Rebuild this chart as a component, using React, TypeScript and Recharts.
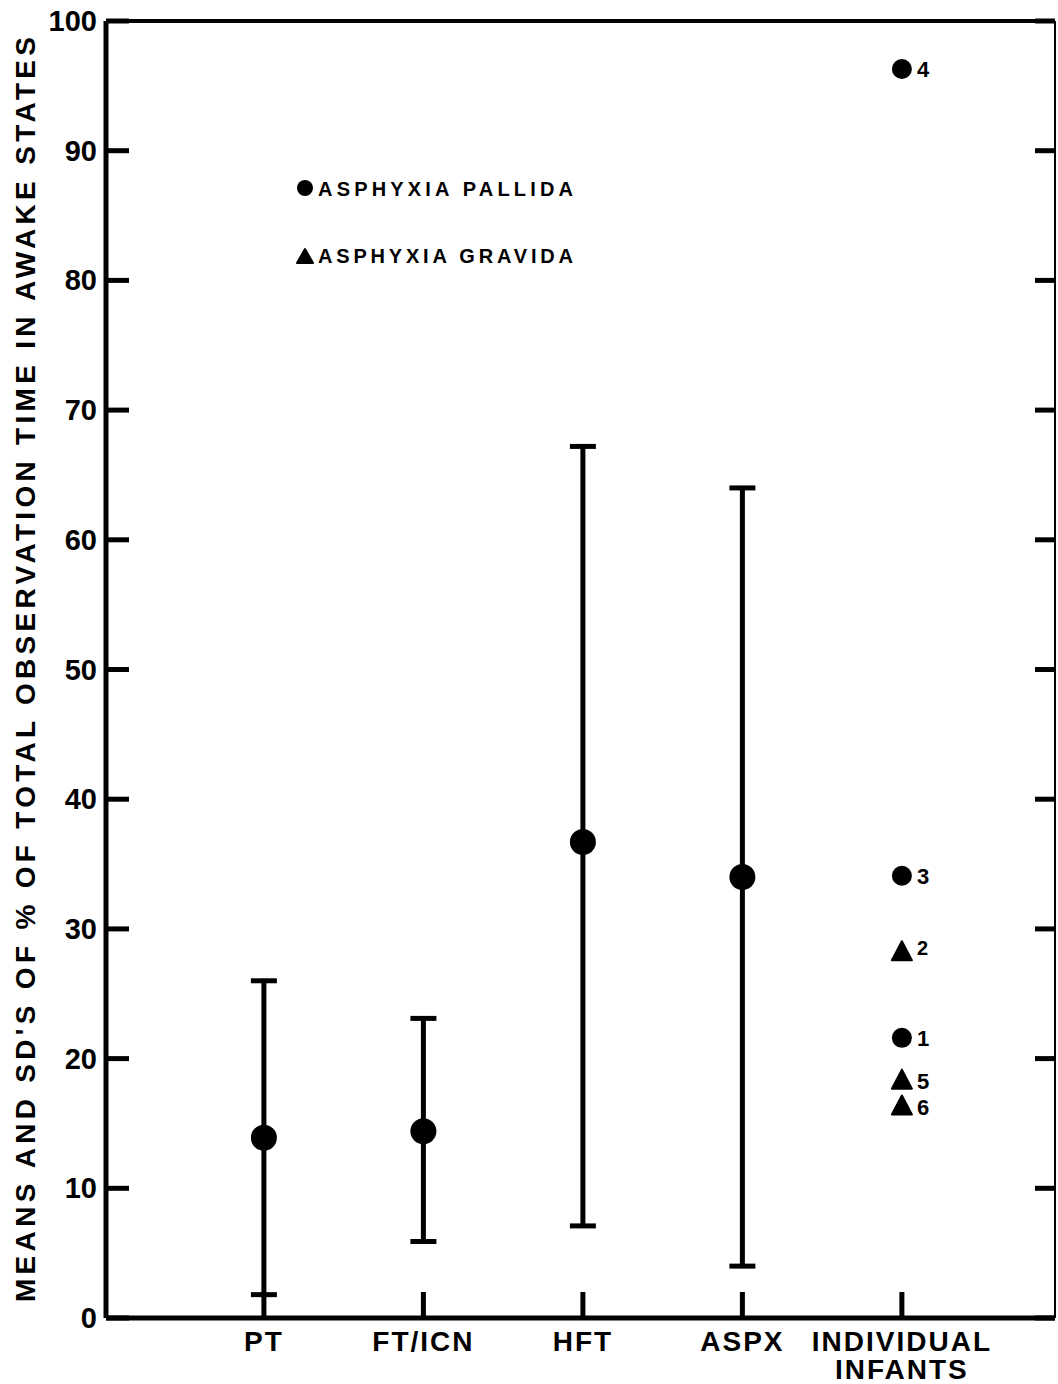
import React from "react";
import { ComposedChart, Scatter, XAxis, YAxis, ErrorBar, Legend, LabelList } from "recharts";

const categories = ["PT", "FT/ICN", "HFT", "ASPX", "INDIVIDUAL INFANTS"];
const groupMeans = [13.9, 14.4, 36.7, 34.0];
const groupUpper = [26.0, 23.1, 67.2, 64.0];
const groupLower = [1.8, 5.9, 7.1, 4.0];

const pallidaIds = ["4", "3", "1"];
const pallidaValues = [96.3, 34.1, 21.6];
const gravidaIds = ["2", "5", "6"];
const gravidaValues = [28.2, 18.3, 16.3];

const yTicks = [0, 10, 20, 30, 40, 50, 60, 70, 80, 90, 100];
const xTicks = [1, 2, 3, 4, 5];

const FONT = "'Liberation Sans', Arial, sans-serif";
const X_DOMAIN: [number, number] = [0.01, 5.96];

const groupData = groupMeans.map((m, i) => ({
  x: i + 1,
  y: m,
  err: [m - groupLower[i], groupUpper[i] - m],
}));
const pallidaData = pallidaValues.map((v, i) => ({ x: 5, y: v, id: pallidaIds[i] }));
const gravidaData = gravidaValues.map((v, i) => ({ x: 5, y: v, id: gravidaIds[i] }));

const LeftTick = (props: any) => {
  const { x, y, payload } = props;
  return (
    <g>
      <line x1={x + 9} x2={x + 32} y1={y} y2={y} stroke="#000" strokeWidth={5} />
      <text x={x} y={y + 10} textAnchor="end" fontFamily={FONT} fontWeight={700} fontSize={29} fill="#000">
        {payload.value}
      </text>
    </g>
  );
};

const RightTick = (props: any) => {
  const { x, y } = props;
  return <line x1={x - 20} x2={x} y1={y} y2={y} stroke="#000" strokeWidth={5} />;
};

const TopTick = (props: any) => {
  const { x, y } = props;
  return <line x1={x} x2={x} y1={y} y2={y + 25} stroke="#000" strokeWidth={5} />;
};

const BottomTick = (props: any) => {
  const { x, y, payload } = props;
  const lines = categories[payload.value - 1].split(" ");
  return (
    <g>
      <line x1={x} x2={x} y1={y} y2={y - 26} stroke="#000" strokeWidth={5} />
      {lines.map((t, i) => (
        <text key={t} x={x} y={y + 33 + i * 28} textAnchor="middle" fontFamily={FONT} fontWeight={700} fontSize={28} letterSpacing={2} fill="#000">
          {t}
        </text>
      ))}
    </g>
  );
};

const YLabel = (props: any) => {
  const { viewBox } = props;
  const cy = viewBox.y + viewBox.height / 2;
  return (
    <text
      x={35}
      y={cy}
      transform={`rotate(-90, 35, ${cy})`}
      textAnchor="middle"
      fontFamily={FONT}
      fontWeight={700}
      fontSize={28}
      textLength={1265}
      lengthAdjust="spacing"
      fill="#000"
    >
      MEANS AND SD'S OF % OF TOTAL OBSERVATION TIME IN AWAKE STATES
    </text>
  );
};

const MeanDot = (props: any) => <circle cx={props.cx} cy={props.cy} r={13} fill="#000" />;
const SmallDot = (props: any) => <circle cx={props.cx} cy={props.cy} r={10} fill="#000" />;
const Tri = (props: any) => {
  const { cx, cy } = props;
  return <path d={`M${cx},${cy - 11} L${cx + 10},${cy + 8} L${cx - 10},${cy + 8} Z`} fill="#000" stroke="#000" strokeWidth={2} strokeLinejoin="round" />;
};

const IdLabel = (props: any) => {
  const { x, y, width, height, value } = props;
  const cx = x + width / 2;
  const cy = y + height / 2;
  const raised = value === "2";
  return (
    <text x={cx + 15} y={cy + (raised ? 3 : 8)} fontFamily={FONT} fontWeight={700} fontSize={raised ? 20 : 22} fill="#000">
      {value}
    </text>
  );
};

const LegendBox = () => (
  <svg width={320} height={100}>
    <circle cx={9} cy={10} r={8} fill="#000" />
    <text x={22} y={18} fontFamily={FONT} fontWeight={700} fontSize={20} textLength={255} lengthAdjust="spacing" fill="#000">
      ASPHYXIA PALLIDA
    </text>
    <path d="M9,71 L17,85 L1,85 Z" fill="#000" stroke="#000" strokeWidth={2} strokeLinejoin="round" />
    <text x={22} y={85} fontFamily={FONT} fontWeight={700} fontSize={20} textLength={255} lengthAdjust="spacing" fill="#000">
      ASPHYXIA GRAVIDA
    </text>
  </svg>
);

export default function App() {
  return (
    <div style={{ position: "absolute", left: 0, top: 0, width: 1058, height: 1384, background: "#fff" }}>
      <ComposedChart width={1058} height={1384} margin={{ top: 0, right: 0, bottom: 0, left: 0 }}>
        <XAxis
          xAxisId={0}
          dataKey="x"
          type="number"
          domain={X_DOMAIN}
          ticks={xTicks}
          height={66}
          tickSize={0}
          tickMargin={0}
          tickLine={false}
          axisLine={{ stroke: "#000", strokeWidth: 5 }}
          tick={<BottomTick />}
          interval={0}
          allowDataOverflow
        />
        <XAxis
          xAxisId="top"
          orientation="top"
          type="number"
          domain={X_DOMAIN}
          ticks={xTicks}
          height={21}
          tickSize={0}
          tickMargin={0}
          tickLine={false}
          axisLine={{ stroke: "#000", strokeWidth: 4 }}
          tick={<TopTick />}
          interval={0}
          allowDataOverflow
        />
        <YAxis
          yAxisId={0}
          dataKey="y"
          type="number"
          domain={[0, 100]}
          ticks={yTicks}
          width={106}
          tickSize={0}
          tickMargin={9}
          tickLine={false}
          axisLine={{ stroke: "#000", strokeWidth: 5 }}
          tick={<LeftTick />}
          interval={0}
          label={<YLabel />}
          allowDataOverflow
        />
        <YAxis
          yAxisId="right"
          orientation="right"
          type="number"
          domain={[0, 100]}
          ticks={yTicks}
          width={3}
          tickSize={0}
          tickMargin={0}
          tickLine={false}
          axisLine={{ stroke: "#000", strokeWidth: 2 }}
          tick={<RightTick />}
          interval={0}
          allowDataOverflow
        />
        <Legend
          layout="vertical"
          align="center"
          verticalAlign="middle"
          content={<LegendBox />}
          wrapperStyle={{ top: 178, left: 296, width: 320 }}
        />
        <Scatter data={groupData} fill="#000" shape={<MeanDot />} isAnimationActive={false}>
          <ErrorBar dataKey="err" direction="y" width={13} strokeWidth={5} stroke="#000" />
        </Scatter>
        <Scatter data={pallidaData} fill="#000" shape={<SmallDot />} isAnimationActive={false}>
          <LabelList dataKey="id" content={<IdLabel />} />
        </Scatter>
        <Scatter data={gravidaData} fill="#000" shape={<Tri />} isAnimationActive={false}>
          <LabelList dataKey="id" content={<IdLabel />} />
        </Scatter>
      </ComposedChart>
    </div>
  );
}
